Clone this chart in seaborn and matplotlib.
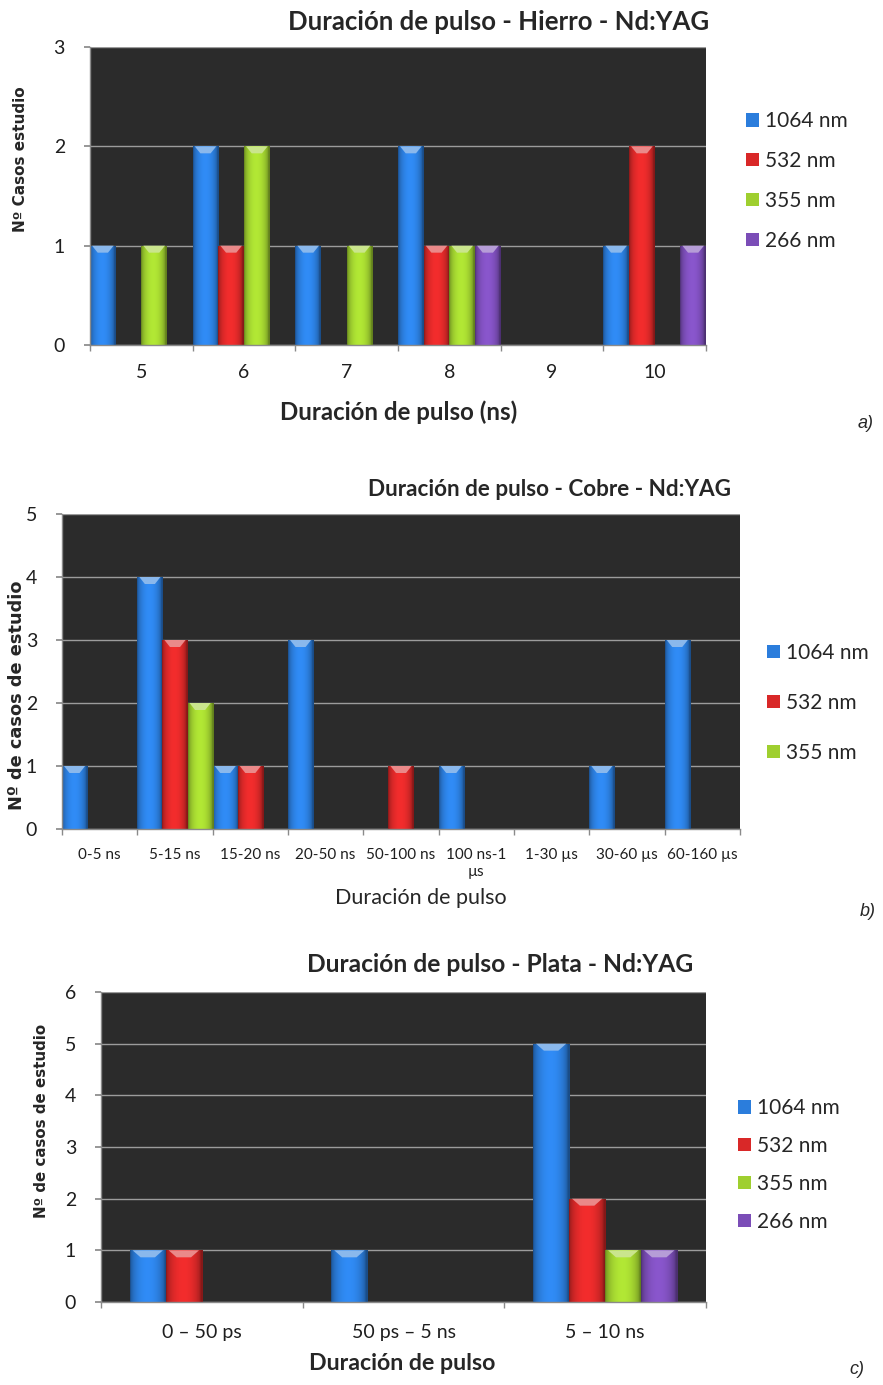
import numpy as np
import pandas as pd
import matplotlib
matplotlib.use("Agg")
import matplotlib.pyplot as plt
from matplotlib.patches import Polygon
from matplotlib.colors import to_rgb
import seaborn as sns

# ---- data -------------------------------------------------------------
wavelengths = ["1064 nm", "532 nm", "355 nm", "266 nm"]

# Hierro
hierro_durations = ["5", "6", "7", "8", "9", "10"]
hierro_1064 = [1, 2, 1, 2, 0, 1]
hierro_532 = [0, 1, 0, 1, 0, 2]
hierro_355 = [1, 2, 1, 1, 0, 0]
hierro_266 = [0, 0, 0, 1, 0, 1]

# Cobre
cobre_durations = ["0-5 ns", "5-15 ns", "15-20 ns", "20-50 ns", "50-100 ns",
                   "100 ns-1\nµs", "1-30 µs", "30-60 µs", "60-160 µs"]
cobre_1064 = [1, 4, 1, 3, 0, 1, 0, 1, 3]
cobre_532 = [0, 3, 1, 0, 1, 0, 0, 0, 0]
cobre_355 = [0, 2, 0, 0, 0, 0, 0, 0, 0]

# Plata
plata_durations = ["0 – 50 ps", "50 ps – 5 ns", "5 – 10 ns"]
plata_1064 = [1, 1, 5]
plata_532 = [1, 0, 2]
plata_355 = [0, 0, 1]
plata_266 = [0, 0, 1]

series_colors = ["#2b7ddc", "#d92828", "#9fcf2f", "#7b4db7"]


def long_form(categories, series, names):
    rows = []
    for name, vals in zip(names, series):
        for cat, v in zip(categories, vals):
            rows.append({"dur": cat, "wl": name, "n": v})
    return pd.DataFrame(rows)


sns.set_theme(style="white")
plt.rcParams["font.family"] = ["Lato", "DejaVu Sans"]

W, H = 883, 1385
fig = plt.figure(figsize=(W / 100, H / 100), dpi=100)


def fx(px):
    return px / W


def fy(py):
    return 1 - py / H


def add_axes(l, t, r, b):
    return fig.add_axes([fx(l), fy(b), fx(r) - fx(l), fy(t) - fy(b)])


def shade_bars(ax, ymax, ax_h_px):
    """Give each bar a rounded horizontal shading and a light bevelled top."""
    bevel = 7 * ymax / ax_h_px
    t = np.linspace(0, 1, 48)
    prof = 0.62 + 0.5 * np.sin(np.pi * np.clip(t * 1.05, 0, 1)) ** 0.5
    for p in list(ax.patches):
        h = p.get_height()
        if not np.isfinite(h) or h <= 0:
            continue
        x0, w = p.get_x(), p.get_width()
        base = np.array(to_rgb(p.get_facecolor()))
        arr = np.clip(base[None, None, :] * prof[None, :, None], 0, 1)
        im = ax.imshow(arr, extent=(x0, x0 + w, 0, h), aspect="auto",
                       interpolation="bilinear", zorder=2.1)
        im.set_clip_path(p)
        light = np.clip(base + (1 - base) * 0.45, 0, 1)
        tri = Polygon([[x0 + w * 0.08, h], [x0 + w * 0.92, h],
                       [x0 + w * 0.7, h - bevel], [x0 + w * 0.3, h - bevel]],
                      closed=True, facecolor=light, edgecolor="none", zorder=2.2)
        ax.add_patch(tri)


def draw_panel(ax, df, cats, names, colors, ymax, width, ax_h_px,
               xtick_size, xpad):
    sns.barplot(data=df, x="dur", y="n", hue="wl", order=cats,
                hue_order=names, palette=colors, width=width,
                errorbar=None, linewidth=0, saturation=1, ax=ax,
                legend=True, zorder=2)
    handles, labels = ax.get_legend_handles_labels()
    ax.get_legend().remove()
    shade_bars(ax, ymax, ax_h_px)
    n = len(cats)
    ax.set_xlim(-0.5, n - 0.5)
    ax.set_ylim(0, ymax)
    ax.set_facecolor("#2b2b2b")
    ax.yaxis.grid(True, color="#9c9c9c", lw=1)
    ax.xaxis.grid(False)
    ax.set_axisbelow(True)
    ax.set_yticks(range(0, ymax + 1))
    for s in ["top", "right"]:
        ax.spines[s].set_visible(False)
    for s in ["left", "bottom"]:
        ax.spines[s].set_color("#8a8a8a")
        ax.spines[s].set_linewidth(1)
    ax.set_xticks(np.arange(-0.5, n), minor=True)
    ax.tick_params(axis="x", which="major", length=0, pad=xpad,
                   labelsize=xtick_size, labelcolor="#1e1e1e")
    ax.tick_params(axis="x", which="minor", length=4, color="#8a8a8a",
                   direction="out", bottom=True)
    ax.tick_params(axis="y", length=4, color="#8a8a8a", direction="out",
                   left=True, labelsize=14, labelcolor="#1e1e1e", pad=14)
    ax.set_xlabel("")
    ax.set_ylabel("")
    return handles, labels


def add_legend(handles, labels, x_px, y_px, spacing):
    fig.legend(handles, labels, loc="center left",
               bbox_to_anchor=(fx(x_px), fy(y_px)), frameon=False,
               fontsize=15, labelspacing=spacing, handlelength=0.6,
               handleheight=0.6, handletextpad=0.3, borderpad=0)


# ---- a) Hierro ----------------------------------------------------------
ax_a = add_axes(90, 47, 706, 345)
df_a = long_form(hierro_durations,
                 [hierro_1064, hierro_532, hierro_355, hierro_266], wavelengths)
h, l = draw_panel(ax_a, df_a, hierro_durations, wavelengths, series_colors,
                  3, 1.0, 298, 14, 14)
add_legend(h, l, 736, 181, 0.95)
fig.text(fx(499), fy(22), "Duración de pulso - Hierro - Nd:YAG",
         ha="center", va="center", fontsize=18.5, fontweight="bold")
fig.text(fx(399), fy(412), "Duración de pulso (ns)", ha="center",
         va="center", fontsize=17.3, fontweight="bold")
fig.text(fx(21), fy(159), "Nº Casos estudio", rotation=90, ha="center",
         va="center", fontsize=11, fontweight="bold", family="DejaVu Sans")
fig.text(fx(866), fy(423), "a)", ha="center", va="center", fontsize=13,
         style="italic", family="Liberation Sans")

# ---- b) Cobre -----------------------------------------------------------
ax_b = add_axes(62, 514, 740, 829)
df_b = long_form(cobre_durations, [cobre_1064, cobre_532, cobre_355],
                 wavelengths[:3])
h, l = draw_panel(ax_b, df_b, cobre_durations, wavelengths[:3],
                  series_colors[:3], 5, 1.0, 315, 11, 14)
add_legend(h, l, 757, 703, 1.43)
fig.text(fx(550), fy(490), "Duración de pulso - Cobre - Nd:YAG",
         ha="center", va="center", fontsize=16.2, fontweight="bold")
fig.text(fx(421), fy(898), "Duración de pulso", ha="center",
         va="center", fontsize=15.5)
fig.text(fx(17), fy(695), "Nº de casos de estudio", rotation=90,
         ha="center", va="center", fontsize=12.8, fontweight="bold",
         family="DejaVu Sans")
fig.text(fx(868), fy(912), "b)", ha="center", va="center", fontsize=13,
         style="italic", family="Liberation Sans")

# ---- c) Plata -----------------------------------------------------------
ax_c = add_axes(101, 992, 706, 1302)
df_c = long_form(plata_durations,
                 [plata_1064, plata_532, plata_355, plata_266], wavelengths)
h, l = draw_panel(ax_c, df_c, plata_durations, wavelengths, series_colors,
                  6, 0.715, 310, 14, 16)
add_legend(h, l, 728, 1165, 0.85)
fig.text(fx(500), fy(965), "Duración de pulso - Plata - Nd:YAG",
         ha="center", va="center", fontsize=17.7, fontweight="bold")
fig.text(fx(402), fy(1363), "Duración de pulso", ha="center",
         va="center", fontsize=16.7, fontweight="bold")
fig.text(fx(42), fy(1121), "Nº de casos de estudio", rotation=90,
         ha="center", va="center", fontsize=10.8, fontweight="bold",
         family="DejaVu Sans")
fig.text(fx(857), fy(1370), "c)", ha="center", va="center", fontsize=13,
         style="italic", family="Liberation Sans")

fig.savefig("out.png", dpi=100, facecolor="white")
